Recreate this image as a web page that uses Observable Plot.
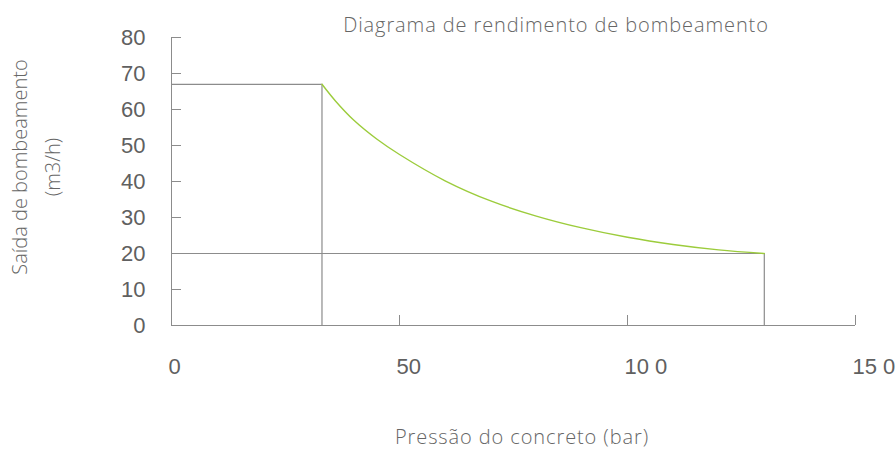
<!DOCTYPE html>
<html>
<head>
<meta charset="utf-8">
<script src="https://cdn.jsdelivr.net/npm/d3@7"></script>
<script src="https://cdn.jsdelivr.net/npm/@observablehq/plot@0.6"></script>
<style>
  html, body { margin: 0; padding: 0; background: #fff; }
  #wrap { position: relative; width: 896px; height: 468px; overflow: hidden; }
  .lbl { position: absolute; font-family: "Open Sans", sans-serif; font-weight: 300; color: #666; white-space: nowrap; }
  #title { top: 11px; left: 556px; transform: translateX(-50%); font-size: 20px; letter-spacing: 0.9px; }
  #xtitle { top: 423px; left: 522px; transform: translateX(-50%); font-size: 20px; letter-spacing: 0.9px; }
  #ytitle { left: 36px; top: 167px; transform: translate(-50%, -50%) rotate(-90deg); font-size: 20px; text-align: center; line-height: 33px; }
</style>
</head>
<body>
<div id="wrap">
  <div id="chart"></div>
  <div class="lbl" id="title">Diagrama de rendimento de bombeamento</div>
  <div class="lbl" id="ytitle">Saída de bombeamento<br>(m3/h)</div>
  <div class="lbl" id="xtitle">Pressão do concreto (bar)</div>
</div>
<script>
// Performance curve: concrete pressure (bar) vs pumping output (m3/h)
const pressure = [33, 36, 40, 45, 50, 60, 70, 80, 90, 100, 110, 120, 130];
const output   = [67, 62.3, 57, 51.8, 47.5, 40.2, 34.6, 30.4, 27.1, 24.5, 22.5, 21.0, 20];

// Operating limits
const maxOutput = 67, minOutput = 20;
const pressureAtMaxOutput = 33, maxPressure = 130;

// Axes
const xTicks = [0, 50, 100, 150];
const xTickLabels = ["0", "50", "10 0", "15 0"];
const yTicks = [0, 10, 20, 30, 40, 50, 60, 70, 80];

const curve = pressure.map((p, i) => ({p, q: output[i]}));
const gray = "#8c8c8c";
const labelColor = "#606060";

const chart = Plot.plot({
  width: 896,
  height: 468,
  marginLeft: 171,
  marginRight: 41,
  marginTop: 37,
  marginBottom: 143,
  style: {fontFamily: "'Liberation Sans', Arial, sans-serif", fontSize: "22px", color: labelColor, background: "transparent"},
  x: {domain: [0, 150]},
  y: {domain: [0, 80]},
  marks: [
    // axis lines
    Plot.ruleX([0], {y1: 0, y2: 80, stroke: gray}),
    Plot.ruleY([0], {x1: 0, x2: 150, stroke: gray}),
    // y ticks (inward) and labels
    Plot.axisY({ticks: yTicks.filter(d => d > 0), tickSize: -10, text: null, stroke: gray, label: null}),
    Plot.axisY({ticks: yTicks, tickSize: 0, tickPadding: 26, fill: labelColor, label: null}),
    // x ticks (inward) and labels
    Plot.axisX({ticks: xTicks.filter(d => d > 0), tickSize: -10, text: null, stroke: gray, label: null}),
    Plot.axisX({ticks: xTicks, tickSize: 0, tickPadding: 33, tickFormat: d => xTickLabels[xTicks.indexOf(d)], textAnchor: "start", dx: -3, fill: labelColor, label: null}),
    // operating limit lines
    Plot.ruleY([maxOutput], {x1: 0, x2: pressureAtMaxOutput, stroke: gray, strokeWidth: 1.2}),
    Plot.ruleX([pressureAtMaxOutput], {y1: 0, y2: maxOutput, stroke: gray, strokeWidth: 1.2}),
    Plot.ruleY([minOutput], {x1: 0, x2: maxPressure, stroke: gray, strokeWidth: 1.2}),
    Plot.ruleX([maxPressure], {y1: 0, y2: minOutput, stroke: gray, strokeWidth: 1.2}),
    // performance curve
    Plot.line(curve, {x: "p", y: "q", curve: "catmull-rom", stroke: "#9ccc3c", strokeWidth: 1.4})
  ]
});
document.getElementById("chart").appendChild(chart);
</script>
</body>
</html>
